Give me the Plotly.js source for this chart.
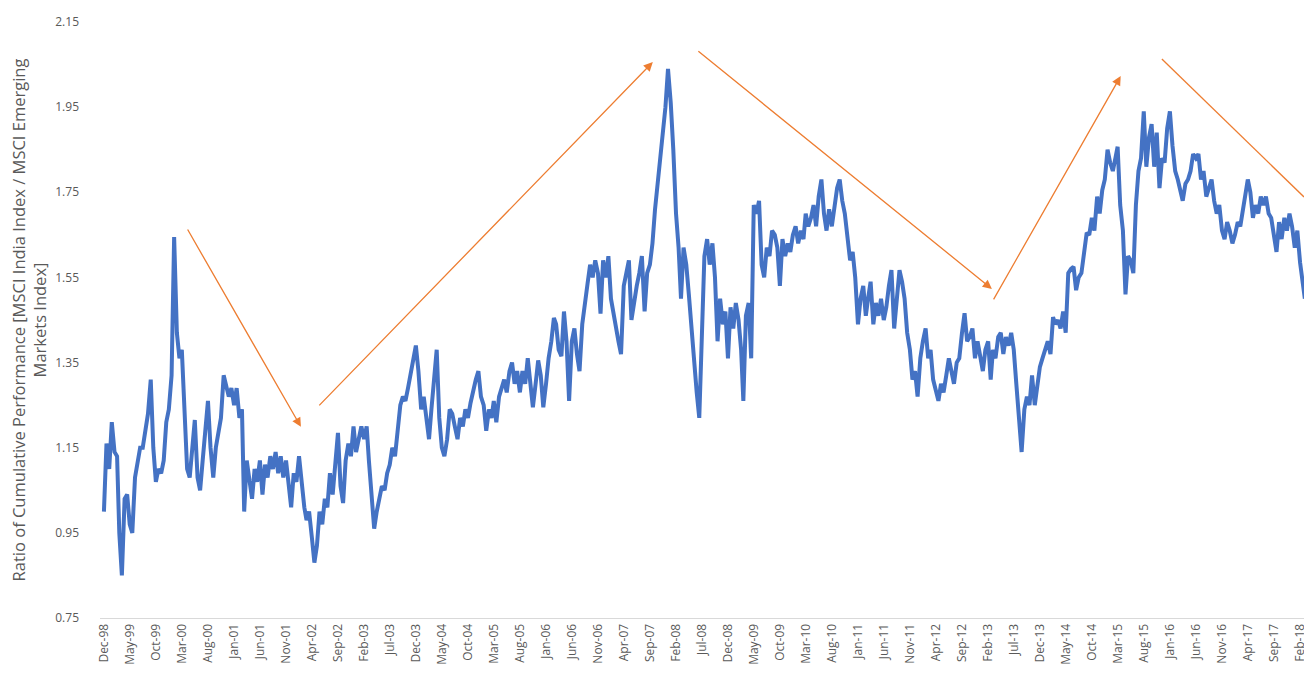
<!DOCTYPE html>
<html>
<head>
<meta charset="utf-8">
<script src="https://cdn.plot.ly/plotly-3.0.1.min.js"></script>
<style>html,body{margin:0;padding:0;background:#fff;}#chart{width:1304px;height:681px;}</style>
</head>
<body>
<div id="chart"></div>
<script>
// Ratio values, two readings per month (1st and 16th)
const r1998 = [1.00, 1.16];
const r1999 = [1.10, 1.21, 1.14, 1.13, 0.95, 0.85, 1.03, 1.04, 0.97, 0.95, 1.08, 1.11, 1.15, 1.15, 1.20, 1.23, 1.31, 1.15, 1.07, 1.10, 1.09, 1.12, 1.21, 1.24];
const r2000 = [1.32, 1.645, 1.42, 1.36, 1.38, 1.24, 1.10, 1.08, 1.15, 1.215, 1.08, 1.05, 1.12, 1.18, 1.26, 1.15, 1.08, 1.15, 1.18, 1.22, 1.32, 1.29, 1.27, 1.29];
const r2001 = [1.25, 1.29, 1.22, 1.24, 1.00, 1.12, 1.07, 1.03, 1.10, 1.07, 1.12, 1.04, 1.11, 1.08, 1.13, 1.10, 1.14, 1.09, 1.13, 1.08, 1.12, 1.07, 1.01, 1.09];
const r2002 = [1.07, 1.13, 1.06, 1.01, 0.98, 1.00, 0.94, 0.88, 0.92, 1.00, 0.97, 1.03, 1.01, 1.09, 1.04, 1.10, 1.185, 1.06, 1.02, 1.12, 1.16, 1.13, 1.20, 1.14];
const r2003 = [1.17, 1.20, 1.17, 1.20, 1.12, 1.03, 0.96, 1.00, 1.03, 1.06, 1.05, 1.09, 1.11, 1.15, 1.13, 1.19, 1.25, 1.27, 1.26, 1.29, 1.33, 1.36, 1.39, 1.33];
const r2004 = [1.24, 1.27, 1.22, 1.17, 1.24, 1.30, 1.38, 1.22, 1.15, 1.13, 1.17, 1.24, 1.23, 1.20, 1.17, 1.22, 1.20, 1.24, 1.22, 1.255, 1.29, 1.31, 1.33, 1.27];
const r2005 = [1.25, 1.19, 1.24, 1.22, 1.26, 1.21, 1.27, 1.29, 1.31, 1.28, 1.33, 1.35, 1.30, 1.33, 1.28, 1.33, 1.30, 1.36, 1.31, 1.245, 1.30, 1.355, 1.32, 1.245];
const r2006 = [1.30, 1.36, 1.40, 1.455, 1.44, 1.38, 1.365, 1.47, 1.40, 1.26, 1.40, 1.43, 1.37, 1.33, 1.44, 1.48, 1.535, 1.58, 1.55, 1.59, 1.56, 1.465, 1.59, 1.55];
const r2007 = [1.60, 1.50, 1.46, 1.42, 1.40, 1.37, 1.53, 1.56, 1.59, 1.45, 1.50, 1.53, 1.56, 1.60, 1.47, 1.56, 1.58, 1.63, 1.71, 1.77, 1.83, 1.89, 1.95, 2.04];
const r2008 = [1.96, 1.85, 1.70, 1.62, 1.50, 1.62, 1.58, 1.51, 1.43, 1.35, 1.28, 1.22, 1.45, 1.60, 1.64, 1.58, 1.63, 1.55, 1.40, 1.50, 1.44, 1.47, 1.36, 1.48];
const r2009 = [1.43, 1.49, 1.45, 1.38, 1.26, 1.46, 1.49, 1.36, 1.72, 1.70, 1.73, 1.58, 1.55, 1.62, 1.60, 1.66, 1.65, 1.62, 1.53, 1.64, 1.60, 1.63, 1.61, 1.65];
const r2010 = [1.67, 1.63, 1.66, 1.64, 1.70, 1.67, 1.69, 1.72, 1.67, 1.74, 1.78, 1.70, 1.66, 1.71, 1.67, 1.72, 1.76, 1.78, 1.73, 1.70, 1.65, 1.59, 1.61, 1.55];
const r2011 = [1.44, 1.50, 1.53, 1.46, 1.50, 1.54, 1.44, 1.49, 1.46, 1.50, 1.45, 1.48, 1.53, 1.567, 1.43, 1.50, 1.567, 1.54, 1.50, 1.42, 1.38, 1.31, 1.33, 1.27];
const r2012 = [1.36, 1.40, 1.43, 1.36, 1.38, 1.31, 1.28, 1.26, 1.30, 1.28, 1.32, 1.36, 1.33, 1.30, 1.35, 1.36, 1.42, 1.466, 1.40, 1.41, 1.43, 1.36, 1.40, 1.37];
const r2013 = [1.33, 1.38, 1.40, 1.31, 1.38, 1.36, 1.41, 1.42, 1.37, 1.41, 1.39, 1.42, 1.38, 1.30, 1.23, 1.14, 1.24, 1.27, 1.25, 1.32, 1.25, 1.30, 1.34, 1.36];
const r2014 = [1.38, 1.40, 1.37, 1.457, 1.44, 1.45, 1.43, 1.47, 1.42, 1.56, 1.57, 1.575, 1.52, 1.55, 1.56, 1.60, 1.655, 1.65, 1.69, 1.66, 1.74, 1.70, 1.755, 1.78];
const r2015 = [1.85, 1.82, 1.80, 1.83, 1.857, 1.72, 1.66, 1.51, 1.60, 1.59, 1.56, 1.72, 1.80, 1.83, 1.94, 1.81, 1.88, 1.91, 1.81, 1.89, 1.76, 1.83, 1.82, 1.90];
const r2016 = [1.94, 1.86, 1.80, 1.78, 1.75, 1.73, 1.77, 1.78, 1.80, 1.84, 1.83, 1.84, 1.78, 1.80, 1.74, 1.76, 1.78, 1.73, 1.70, 1.72, 1.66, 1.64, 1.68, 1.66];
const r2017 = [1.63, 1.65, 1.68, 1.67, 1.70, 1.74, 1.78, 1.75, 1.69, 1.72, 1.70, 1.74, 1.72, 1.74, 1.70, 1.69, 1.65, 1.61, 1.68, 1.64, 1.69, 1.66, 1.70, 1.67];
const r2018 = [1.62, 1.66, 1.585, 1.53, 1.50];

const tickLabels = ['Dec-98','May-99','Oct-99','Mar-00','Aug-00','Jan-01','Jun-01','Nov-01','Apr-02','Sep-02','Feb-03','Jul-03','Dec-03','May-04','Oct-04','Mar-05','Aug-05','Jan-06','Jun-06','Nov-06','Apr-07','Sep-07','Feb-08','Jul-08','Dec-08','May-09','Oct-09','Mar-10','Aug-10','Jan-11','Jun-11','Nov-11','Apr-12','Sep-12','Feb-13','Jul-13','Dec-13','May-14','Oct-14','Mar-15','Aug-15','Jan-16','Jun-16','Nov-16','Apr-17','Sep-17','Feb-18'];
const yTicks = [0.75, 0.95, 1.15, 1.35, 1.55, 1.75, 1.95, 2.15];

// Trend arrows: [tail date, tail value, head date, head value]
const arrows = [
  ['2000-03-30', 1.666, '2002-01-27', 1.199],
  ['2002-05-06', 1.246, '2007-09-18', 2.056],
  ['2008-06-02', 2.084, '2013-02-23', 1.523],
  ['2013-02-28', 1.495, '2015-03-19', 2.023]
];
const openLine = ['2015-11-15', 2.063, '2018-02-24', 1.739];

const seriesByYear = [[1998, 12, r1998],[1999,1,r1999],[2000,1,r2000],[2001,1,r2001],[2002,1,r2002],[2003,1,r2003],[2004,1,r2004],[2005,1,r2005],[2006,1,r2006],[2007,1,r2007],[2008,1,r2008],[2009,1,r2009],[2010,1,r2010],[2011,1,r2011],[2012,1,r2012],[2013,1,r2013],[2014,1,r2014],[2015,1,r2015],[2016,1,r2016],[2017,1,r2017],[2018,1,r2018]];

const pad = n => String(n).padStart(2, '0');
const dates = [], vals = [];
seriesByYear.forEach(([yr, m0, arr]) => {
  arr.forEach((v, i) => {
    const m = m0 + Math.floor(i / 2);
    const d = (i % 2) ? 16 : 1;
    dates.push(yr + '-' + pad(m) + '-' + pad(d));
    vals.push(v);
  });
});

const monIdx = {Jan:1,Feb:2,Mar:3,Apr:4,May:5,Jun:6,Jul:7,Aug:8,Sep:9,Oct:10,Nov:11,Dec:12};
const tickVals = tickLabels.map(l => {
  const [mn, yy] = l.split('-');
  const y = parseInt(yy, 10);
  const year = y > 50 ? 1900 + y : 2000 + y;
  return year + '-' + pad(monIdx[mn]) + '-01';
});

const orange = '#ED7D31';
const annotations = arrows.map(a => ({
  x: a[2], y: a[3], ax: a[0], ay: a[1],
  xref: 'x', yref: 'y', axref: 'x', ayref: 'y',
  showarrow: true, arrowhead: 2, arrowsize: 1.4, arrowwidth: 1.3,
  arrowcolor: orange, text: ''
}));

const font = 'Open Sans, Liberation Sans, sans-serif';
const layout = {
  width: 1304, height: 681,
  margin: {l: 100, r: 0, t: 22, b: 63},
  paper_bgcolor: '#fff', plot_bgcolor: '#fff',
  showlegend: false,
  xaxis: {
    type: 'date', range: ['1998-11-08', '2018-02-24'],
    tickmode: 'array', tickvals: tickVals, ticktext: tickLabels,
    tickangle: -90, tickfont: {family: font, size: 12, color: '#595959'},
    ticklabeloverflow: 'allow',
    showgrid: false, zeroline: false, showline: true, linecolor: '#d9d9d9', linewidth: 1,
    ticks: '', automargin: false
  },
  yaxis: {
    range: [0.75, 2.15], tickmode: 'array', tickvals: yTicks,
    ticktext: yTicks.map(v => v.toFixed(2)),
    tickfont: {family: font, size: 12, color: '#595959'},
    showgrid: false, zeroline: false, showline: false, ticks: '',
    ticklabelstandoff: 20, automargin: false,
    title: {text: 'Ratio of Cumulative Performance [MSCI India Index / MSCI Emerging<br>Markets Index]',
            font: {family: font, size: 16.5, color: '#595959'}, standoff: 4}
  },
  annotations: annotations,
  shapes: [{type: 'line', xref: 'x', yref: 'y', x0: openLine[0], y0: openLine[1], x1: openLine[2], y1: openLine[3],
            line: {color: orange, width: 1.3}}]
};

Plotly.newPlot('chart', [{
  type: 'scatter', mode: 'lines', x: dates, y: vals,
  line: {color: '#4472C4', width: 4}, hoverinfo: 'skip'
}], layout, {staticPlot: true, displayModeBar: false});
</script>
</body>
</html>
